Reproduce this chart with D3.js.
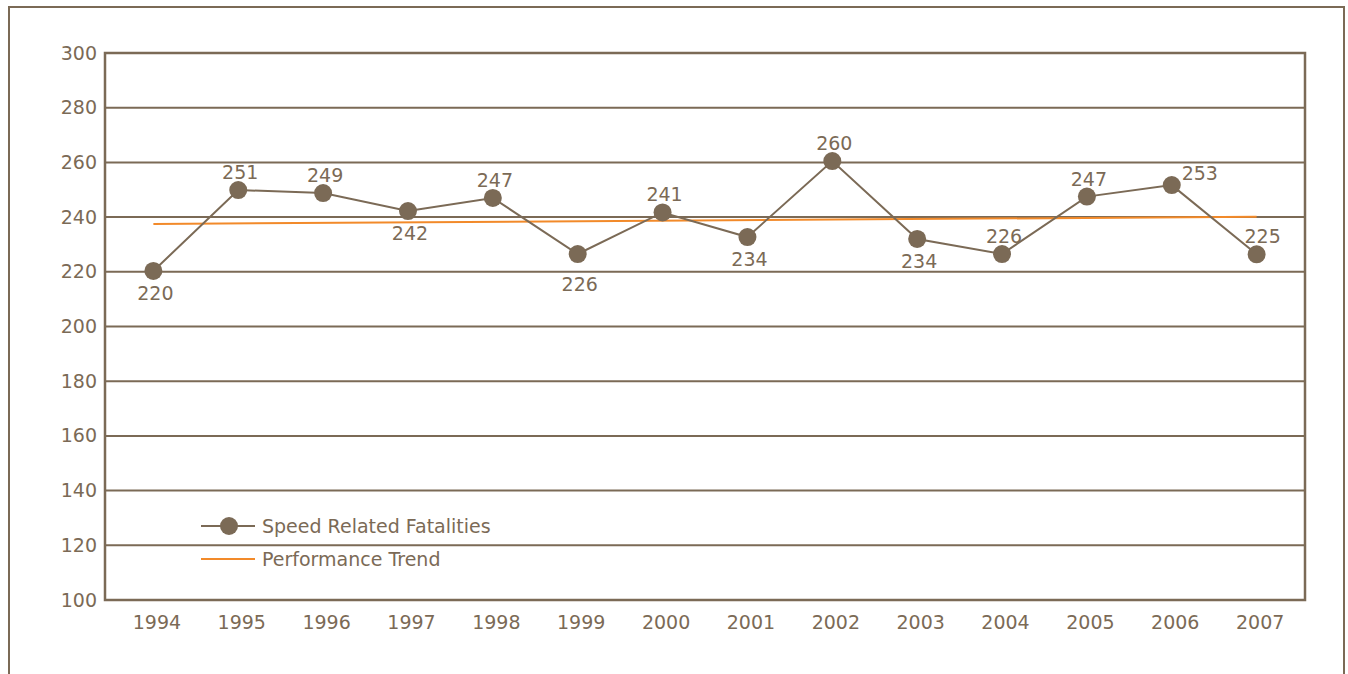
<!DOCTYPE html>
<html><head><meta charset="utf-8">
<script src="https://cdn.jsdelivr.net/npm/d3@7"></script>
<style>body{margin:0;background:#fff}svg{display:block}text{font-family:"DejaVu Sans",sans-serif}</style>
</head><body><svg id="c" width="1348" height="674"></svg>
<script>
const years = ["1994","1995","1996","1997","1998","1999","2000","2001","2002","2003","2004","2005","2006","2007"];
const fatalities = [220.3, 249.9, 248.8, 242.2, 247.0, 226.5, 241.7, 232.7, 260.5, 232.0, 226.5, 247.5, 251.7, 226.4];
const valueLabels = ["220","251","249","242","247","226","241","234","260","234","226","247","253","225"];
const trendYears = ["1994","2007"];
const trendValues = [237.5, 240.1];
const yTicks = [100,120,140,160,180,200,220,240,260,280,300];
const seriesNames = ["Speed Related Fatalities","Performance Trend"];

const brown = "#7b6a56", textC = "#7b6a56", orange = "#f28a2a";
const FS = "19px";
const svg = d3.select("#c");
const L=105,R=1305,T=53,B=600;
const x = d3.scalePoint().domain(years).range([L,R]).padding(0.57);
const y = d3.scaleLinear().domain([100,300]).range([B,T]);

// outer frame
svg.append("path").attr("d","M9,680V7H1344V680").attr("fill","none").attr("stroke",brown).attr("stroke-width",2);

// gridlines
svg.append("g").selectAll("line").data(yTicks).join("line")
  .attr("x1",L).attr("x2",R).attr("y1",d=>y(d)).attr("y2",d=>y(d))
  .attr("stroke",brown).attr("stroke-width",2);
svg.append("rect").attr("x",L).attr("y",T).attr("width",R-L).attr("height",B-T)
  .attr("fill","none").attr("stroke",brown).attr("stroke-width",2.5);

// y axis
const ya = svg.append("g").attr("transform",`translate(${L-8},0)`)
  .call(d3.axisLeft(y).tickValues(yTicks).tickSize(0).tickPadding(0));
ya.select(".domain").remove();
ya.selectAll("text").attr("fill",textC).style("font-size",FS).style("font-family","DejaVu Sans");

// x axis
const xa = svg.append("g").attr("transform",`translate(3,${B+15})`)
  .call(d3.axisBottom(x).tickSize(0).tickPadding(0));
xa.select(".domain").remove();
xa.selectAll("text").attr("fill",textC).style("font-size",FS).style("font-family","DejaVu Sans");

// trend
svg.append("path").datum(trendYears.map((d,i)=>[d,trendValues[i]]))
  .attr("d",d3.line().x(d=>x(d[0])).y(d=>y(d[1])))
  .attr("fill","none").attr("stroke",orange).attr("stroke-width",2);

// series
const pts = years.map((d,i)=>({yr:d,v:fatalities[i],lab:valueLabels[i],i}));
svg.append("path").datum(pts)
  .attr("d",d3.line().x(d=>x(d.yr)).y(d=>y(d.v)))
  .attr("fill","none").attr("stroke",brown).attr("stroke-width",2);
svg.append("g").selectAll("circle").data(pts).join("circle")
  .attr("cx",d=>x(d.yr)).attr("cy",d=>y(d.v)).attr("r",9).attr("fill",brown);

// value labels
const place = ["b","a","a","b","a","b2","a","b","a","b","a","a","r","a"];
svg.append("g").selectAll("text").data(pts).join("text")
  .attr("x",d=>x(d.yr)+(place[d.i]==="r"?28:place[d.i]==="a"&&d.i===13?6:2))
  .attr("y",d=>y(d.v)+({a:-11,b:29,b2:37,r:-5})[place[d.i]])
  .attr("text-anchor","middle").attr("fill",textC).style("font-size",FS)
  .text(d=>d.lab);

// legend
const lg = svg.append("g");
lg.append("line").attr("x1",201).attr("x2",255).attr("y1",526).attr("y2",526).attr("stroke",brown).attr("stroke-width",2);
lg.append("circle").attr("cx",229).attr("cy",526).attr("r",9).attr("fill",brown);
lg.append("line").attr("x1",201).attr("x2",255).attr("y1",559).attr("y2",559).attr("stroke",orange).attr("stroke-width",2);
lg.selectAll("text").data(seriesNames).join("text")
  .attr("x",262).attr("y",(d,i)=>533+i*33).attr("fill",textC).style("font-size",FS).text(d=>d);
</script></body></html>
